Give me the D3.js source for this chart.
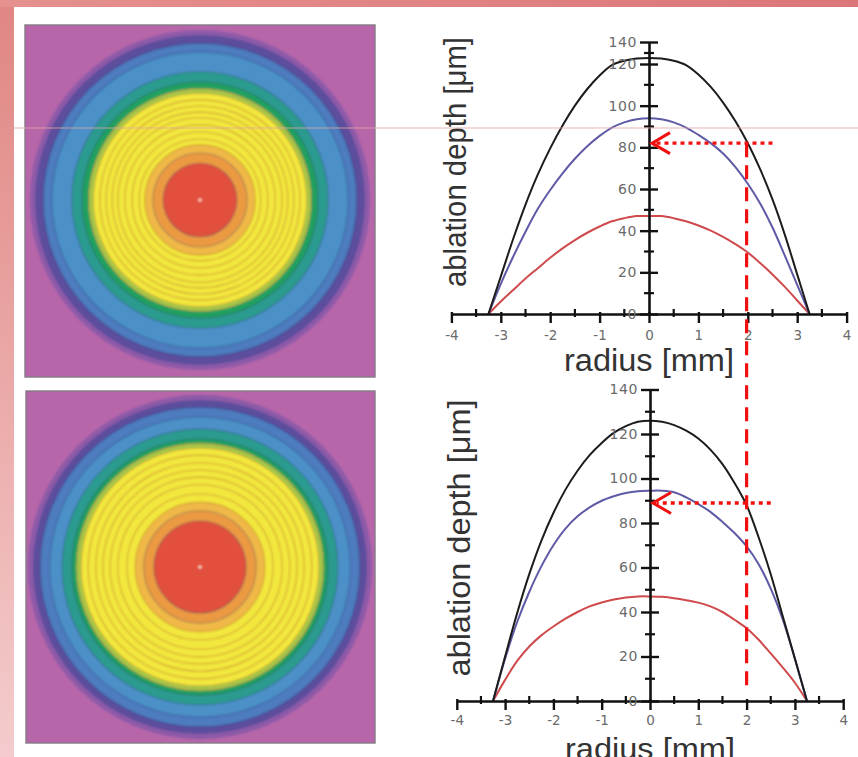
<!DOCTYPE html>
<html><head><meta charset="utf-8">
<script src="https://cdn.jsdelivr.net/npm/d3@7"></script>
<style>html,body{margin:0;padding:0;background:#fff;}svg{display:block}</style>
</head><body>
<svg id="c" width="858" height="757"></svg>
<script>
// ---------- data ----------
const radiusMm = [-3.25,-3,-2.75,-2.5,-2.25,-2,-1.75,-1.5,-1.25,-1,-0.75,-0.5,-0.25,0,0.25,0.5,0.75,1,1.25,1.5,1.75,2,2.25,2.5,2.75,3,3.25];
const topBlack = [0,18,36,52.5,67,79.5,90.5,100,108,114.5,119.5,123,125,125.5,125,123,119.5,115,109,101.5,92.5,82,69.5,55,38,19,0];
const topBlue  = [0,14.5,27.5,39.5,50.5,59.5,67.5,74.5,80.5,85.5,89.5,92,93.5,94,93.5,92,89.5,86,82,77,70.5,62.5,53,41.5,28,14,0];
const topRed   = [0,6,11.5,17,22,27,31.5,35.5,39,42,44.5,46,47,47,47,46,44.5,42.5,40,37,33.5,29.5,24.5,19,13,6.5,0];
const botBlack = [0,20,39.5,57,72,84.5,95,103.5,110.5,116,120.5,123.5,125.5,126,125.5,124,121.5,118,113,106.5,98,88,73.5,57,38,19,0];
const botBlue  = [0,19,35.5,49,60.5,70,77.5,83,87,90,92,93.5,94.3,94.5,94.5,93.8,91.5,88.5,85,80.5,75.5,69.5,61.5,50.5,36.5,19,0];
const botRed   = [0,9.5,18,24.5,29.5,33.5,37,40,42.5,44.3,45.6,46.5,47,47,46.8,46.2,45.3,44.2,42.5,40,36.5,32.7,27.5,21.4,15,8.2,0];
const xTicks = [-4,-3,-2,-1,0,1,2,3,4];
const xMinorTicks = [-3.5,-2.5,-1.5,-0.5,0.5,1.5,2.5,3.5];
const yTicks = [0,20,40,60,80,100,120,140];
const yMinorTicks = [10,30,50,70,90,110,130];
const markerX = 2, markerFromX = 2.5, markerToX = 0;
const topMarkerDepth = 82, botMarkerDepth = 89, dashEndDepth = 5;
// contour maps: ring outer radius (mm) and colour level index, outermost first
const topMapRadius = [3.33,3.23,3.07,2.90,2.51,2.31,2.17,2.09,1.96,1.84,1.72,1.61,1.47,1.33,1.19,1.08,0.92,0.72];
const topMapLevel  = [0,1,2,3,4,5,6,7,7,7,7,7,7,7,7,8,9,10];
const botMapRadius = [3.37,3.27,3.13,2.94,2.70,2.51,2.41,2.33,2.19,2.04,1.90,1.76,1.61,1.43,1.27,1.10,0.90];
const botMapLevel  = [0,1,2,3,4,5,6,7,7,7,7,7,7,7,8,9,10];
const palette = ["#8d5aa8","#5b4d9d","#4d7cbf","#4b90c7","#2b9b8e","#22a05e","#9ccc4c","#f2e83c","#f0b846","#eb9a42","#e2503e"];

// ---------- page ----------
const svg = d3.select("#c");
const defs = svg.append("defs");
const bgGrad = defs.append("linearGradient").attr("id","bgV").attr("x1",0).attr("y1",0).attr("x2",0).attr("y2",1);
bgGrad.append("stop").attr("offset","0%").attr("stop-color","#e08682");
bgGrad.append("stop").attr("offset","100%").attr("stop-color","#f4cccd");
const topGrad = defs.append("linearGradient").attr("id","bgH").attr("x1",0).attr("y1",0).attr("x2",1).attr("y2",0);
topGrad.append("stop").attr("offset","0%").attr("stop-color","#e5918e");
topGrad.append("stop").attr("offset","100%").attr("stop-color","#dc7678");
const blur = defs.append("filter").attr("id","soft").attr("x","-10%").attr("y","-10%").attr("width","120%").attr("height","120%");
blur.append("feGaussianBlur").attr("stdDeviation",1.3);

svg.append("rect").attr("width",858).attr("height",757).attr("fill","url(#bgV)");
svg.append("rect").attr("width",858).attr("height",7).attr("fill","url(#bgH)");
svg.append("rect").attr("x",14).attr("y",7).attr("width",844).attr("height",750).attr("fill","#ffffff");

// ---------- contour maps ----------
const rScale = d3.scaleLinear([0,3.25],[0,166]);
function drawMap(id, box, cx, cy, radii, levels) {
  defs.append("clipPath").attr("id",id).append("rect")
    .attr("x",box[0]).attr("y",box[1]).attr("width",box[2]).attr("height",box[3]);
  const g = svg.append("g");
  g.append("rect").attr("x",box[0]).attr("y",box[1]).attr("width",box[2]).attr("height",box[3])
    .attr("fill","#b766aa");
  const inner = g.append("g").attr("clip-path",`url(#${id})`).append("g").attr("filter","url(#soft)");
  const rings = radii.map((r,i)=>({r, lvl:levels[i]}));
  inner.selectAll("circle").data(rings).join("circle")
    .attr("cx",cx).attr("cy",cy).attr("r",d=>rScale(d.r))
    .attr("fill",d=>palette[d.lvl])
    .attr("stroke",(d,i)=> i<2 ? "none" : (d.lvl>=6 && d.lvl<=8 ? "#d2a434" : "rgba(40,60,110,0.35)"))
    .attr("stroke-width",1.1);
  inner.append("circle").attr("cx",cx).attr("cy",cy).attr("r",1.6).attr("fill","#f6eadc");
  g.append("rect").attr("x",box[0]).attr("y",box[1]).attr("width",box[2]).attr("height",box[3])
    .attr("fill","none").attr("stroke","#857a86").attr("stroke-width",1.4);
}
drawMap("clipTop",[25,25,350,352],200,200,topMapRadius,topMapLevel);
drawMap("clipBot",[26,391,349,352],200,567,botMapRadius,botMapLevel);

// ---------- profile charts ----------
const font = "'Liberation Sans', Arial, sans-serif";
function drawChart(x, y, black, blue, red, yTitleX, yTitleY, yTitleLen, xTitleY, xTitleSize, tickPad) {
  const g = svg.append("g");
  const line = d3.line().x((d,i)=>x(radiusMm[i])).y(d=>y(d)).curve(d3.curveCatmullRom.alpha(0.5));
  [[red,"#cf4a4c"],[blue,"#5e5aa6"],[black,"#1c1c1c"]].forEach(([s,c])=>{
    g.append("path").datum(s).attr("d",line).attr("fill","none").attr("stroke",c).attr("stroke-width",2);
  });
  // x axis
  const xa = g.append("g").attr("transform",`translate(0,${y(0)})`)
    .call(d3.axisBottom(x).tickValues(xTicks).tickSizeInner(9).tickSizeOuter(0).tickPadding(tickPad).tickFormat(d=>String(d)));
  xa.select(".domain").attr("stroke","#111").attr("stroke-width",2.6);
  xa.selectAll(".tick line").attr("y1",-2).attr("stroke","#111").attr("stroke-width",2.4);
  xa.selectAll(".tick text").attr("font-family","'DejaVu Sans', sans-serif").attr("font-size",13.5).attr("fill","#6a6a6a");
  xa.selectAll("line.minor").data(xMinorTicks).join("line").attr("class","minor")
    .attr("x1",d=>x(d)).attr("x2",d=>x(d)).attr("y1",-5).attr("y2",3).attr("stroke","#111").attr("stroke-width",2.2);
  // y axis
  const ya = g.append("g").attr("transform",`translate(${x(0)},0)`)
    .call(d3.axisLeft(y).tickValues(yTicks).tickSizeInner(9).tickSizeOuter(0).tickPadding(3));
  ya.select(".domain").attr("stroke","#111").attr("stroke-width",2.6);
  ya.selectAll(".tick line").attr("x1",9).attr("stroke","#111").attr("stroke-width",2.4);
  ya.selectAll(".tick text").attr("font-family","'DejaVu Sans', sans-serif").attr("font-size",14).attr("letter-spacing",0.6).attr("fill","#6a6a6a");
  ya.selectAll("line.minor").data(yMinorTicks).join("line").attr("class","minor")
    .attr("y1",d=>y(d)).attr("y2",d=>y(d)).attr("x1",-5).attr("x2",5).attr("stroke","#111").attr("stroke-width",2.2);
  // titles
  g.append("text").attr("x",x(0)).attr("y",xTitleY).attr("text-anchor","middle")
    .attr("font-family",font).attr("font-size",xTitleSize).attr("fill","#333")
    .attr("textLength",170).attr("lengthAdjust","spacingAndGlyphs").text("radius [mm]");
  g.append("text").attr("transform",`translate(${yTitleX},${yTitleY}) rotate(-90)`).attr("text-anchor","middle")
    .attr("font-family",font).attr("font-size",32).attr("fill","#333")
    .attr("textLength",yTitleLen).attr("lengthAdjust","spacingAndGlyphs").text("ablation depth [μm]");
  return g;
}
const xTop = d3.scaleLinear([-4,4],[451.4,846.6]);
const yTop = d3.scaleLinear([0,120,140],[314,64,42]);
const xBot = d3.scaleLinear([-4,4],[456.8,843.2]);
const yBot = d3.scaleLinear([0,140],[701,389.5]);
drawChart(xTop,yTop,topBlack,topBlue,topRed,466,162,250,371,31,7);
drawChart(xBot,yBot,botBlack,botBlue,botRed,470,538,277,759,29,5);

// ---------- red annotations ----------
const ann = svg.append("g").attr("stroke","#f01010").attr("fill","none");
ann.append("line").attr("x1",xBot(markerX)).attr("x2",xBot(markerX))
  .attr("y1",yTop(topMarkerDepth)).attr("y2",yBot(dashEndDepth))
  .attr("stroke-width",3.2).attr("stroke-dasharray","14,8");
[[xTop,yTop,topMarkerDepth],[xBot,yBot,botMarkerDepth]].forEach(([x,y,d])=>{
  const x0 = x(markerToX)+3, yy = y(d);
  ann.append("line").attr("x1",x(markerFromX)).attr("x2",x0+4).attr("y1",yy).attr("y2",yy)
    .attr("stroke-width",3.4).attr("stroke-dasharray","4,4");
  ann.append("polyline").attr("points",`${x0+18},${yy-10.5} ${x0},${yy} ${x0+18},${yy+10.5}`)
    .attr("stroke-width",3).attr("stroke-linejoin","miter");
});

// faint scan line across the slide
svg.append("line").attr("x1",10).attr("x2",858).attr("y1",128).attr("y2",128)
  .attr("stroke","#e3a6a6").attr("stroke-width",1).attr("opacity",0.8);
</script>
</body></html>
